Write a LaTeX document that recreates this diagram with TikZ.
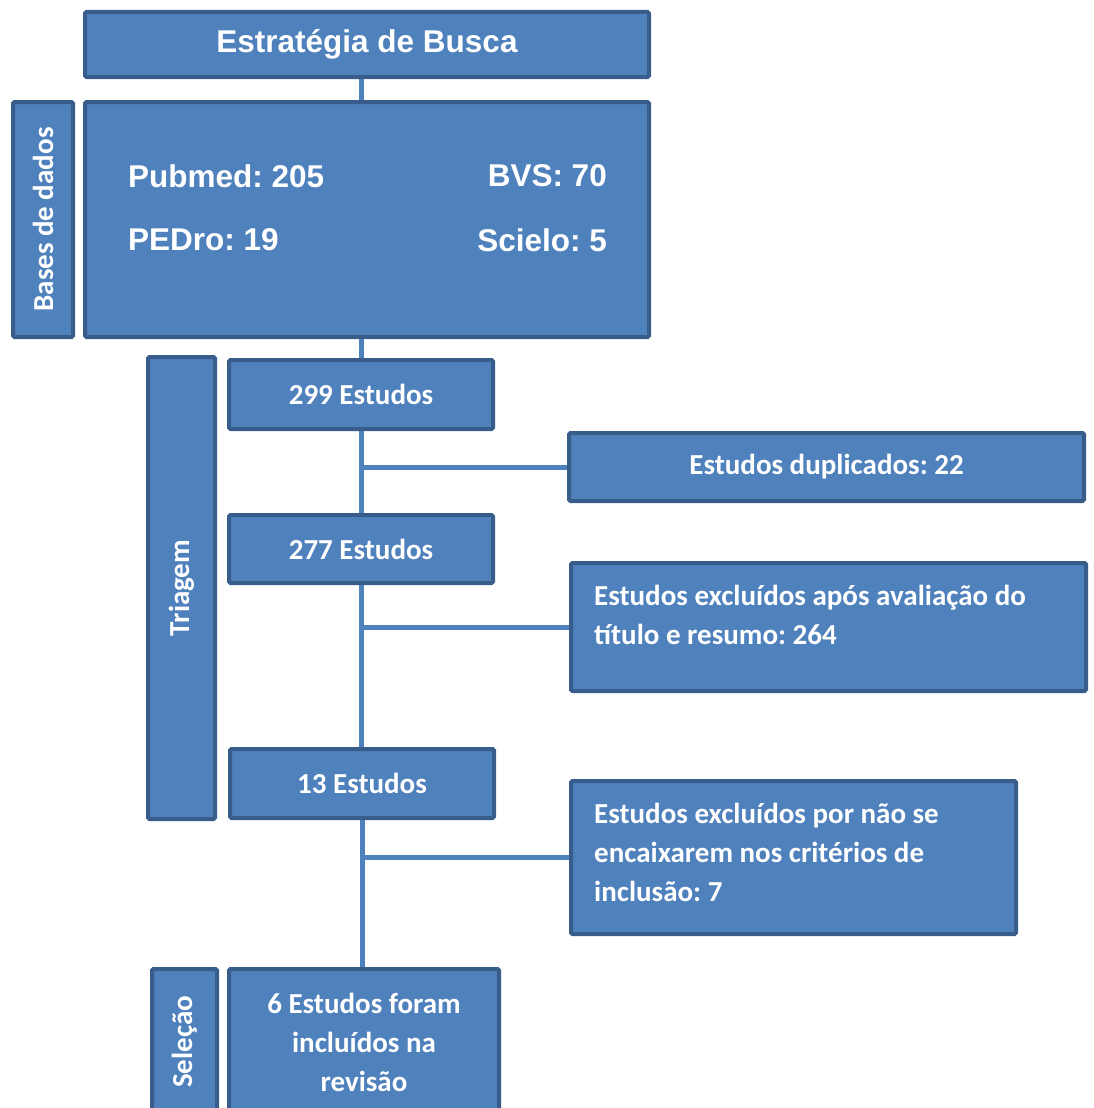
\documentclass[tikz,border=0pt]{standalone}
\usepackage{fontspec}
\setmainfont{Carlito}
\newfontfamily\arialfont{Liberation Sans}
\usepackage{tikz}
\usetikzlibrary{positioning, calc, backgrounds}
\frenchspacing

\definecolor{boxblue}{HTML}{4F81BD}
\definecolor{edgeblue}{HTML}{385D8A}

\tikzset{
  stagebox/.style={draw=edgeblue, fill=boxblue, line width=4pt, rounded corners=1.5pt,
    text=white, font=\bfseries\fontsize{29}{39}\selectfont, inner sep=0pt,
    append after command={
      \pgfextra{\draw[innershade] ([shift={(4,4)}]\tikzlastnode.north west)
        rectangle ([shift={(-4,-4)}]\tikzlastnode.south east);}}},
  sidebox/.style={draw=edgeblue, fill=boxblue, line width=4pt, rounded corners=1.5pt,
    text=white, font=\bfseries\fontsize{29}{39}\selectfont, inner sep=0pt, rotate=90,
    append after command={
      \pgfextra{\draw[innershade] ([shift={(4,-4)}]\tikzlastnode.north west)
        rectangle ([shift={(-4,4)}]\tikzlastnode.south east);}}},
  innershade/.style={draw=edgeblue, draw opacity=0.35, line width=3pt, rounded corners=0pt},
  infotxt/.style={text=white, font=\bfseries\fontsize{29}{39}\selectfont, inner sep=0pt, align=left},
  dbtxt/.style={text=white, font=\arialfont\bfseries\fontsize{31.5}{38}\selectfont, inner sep=0pt},
  link/.style={draw=boxblue, line width=5pt}
}

\begin{document}
\begin{tikzpicture}[x=1pt, y=-1pt]
    \useasboundingbox (0,0) rectangle (1093,1108);
    \clip (0,0) rectangle (1093,1108);

    % 1. Search strategy and databases
    \node[stagebox, minimum width=564, minimum height=65, font=\arialfont\bfseries\fontsize{31.5}{38}\selectfont] (busca) at (367, 44.5) {Estratégia de Busca};
    \node[stagebox, minimum width=564, minimum height=235] (dados) at (367, 219.5) {};
    \node[sidebox, minimum width=235, minimum height=60] (bases) at (43, 219.5) {Bases de dados};
    % Database counts, two columns
    \node[dbtxt, anchor=west] (pubmed) at (128, 176) {Pubmed: 205};
    \node[dbtxt, anchor=east] (bvs) at (607, 176) {BVS: 70};
    \node[dbtxt, anchor=west] (pedro) at (128, 240) {PEDro: 19};
    \node[dbtxt, anchor=east] (scielo) at (607, 240) {Scielo: 5};

    % 2. Screening stage
    \node[sidebox, minimum width=462, minimum height=67] (triagem) at (181.5, 588) {Triagem};
    \node[stagebox, minimum width=264, minimum height=69] (e299) at (361, 394.5) {299 Estudos};
    \node[stagebox, minimum width=515, minimum height=68] (dup) at (826.5, 467) {Estudos duplicados: 22};
    \node[stagebox, minimum width=264, minimum height=68] (e277) at (361, 549) {277 Estudos};
    \node[stagebox, minimum width=515, minimum height=128] (exc1) at (828.5, 627) {};
    \node[infotxt, anchor=west] (exc1txt) at (594, 615) {Estudos excluídos após avaliação do\\título e resumo: 264};
    \node[stagebox, minimum width=264, minimum height=69] (e13) at (362, 783.5) {13 Estudos};
    \node[stagebox, minimum width=445, minimum height=153] (exc2) at (793.5, 857.5) {};
    \node[infotxt, anchor=west] (exc2txt) at (594, 852) {Estudos excluídos por não se\\encaixarem nos critérios de\\inclusão: 7};

    % 3. Selection stage (runs past the bottom edge)
    \node[sidebox, minimum width=146, minimum height=65] (selecao) at (184.5, 1042) {Seleção};
    \node[stagebox, minimum width=270, minimum height=146, align=center] (incl) at (364, 1042) {6 Estudos foram\\incluídos na\\revisão};

    % 4. Connectors, behind the boxes
    \begin{scope}[on background layer]
      \draw[link] (busca.south -| e299.north) -- (dados.north -| e299.north);
      \draw[link] (dados.south -| e299.north) -- (e299.north);
      \draw[link] (e299.south) -- (e277.north);
      \draw[link] (e299.south |- dup.west) -- (dup.west);
      \draw[link] (e277.south) -- (e13.north -| e277.south);
      \draw[link] (e277.south |- exc1.west) -- (exc1.west);
      \draw[link] (e13.south) -- (e13.south |- incl.north);
      \draw[link] (e13.south |- exc2.west) -- (exc2.west);
    \end{scope}

\end{tikzpicture}
\end{document}
